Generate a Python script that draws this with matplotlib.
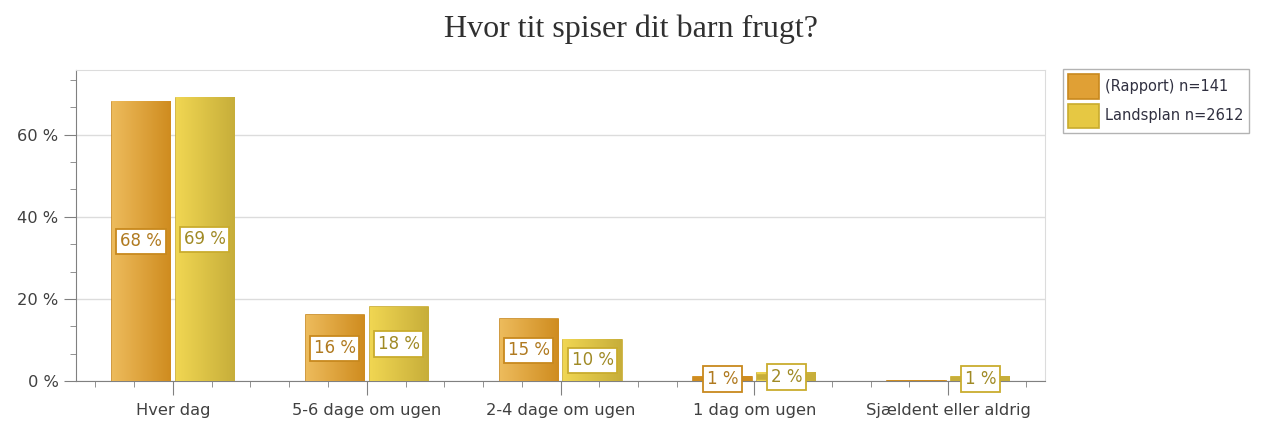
import matplotlib.pyplot as plt
import numpy as np
from matplotlib.colors import LinearSegmentedColormap
from matplotlib.ticker import MultipleLocator, FuncFormatter

categories = ['Hver dag', '5-6 dage om ugen', '2-4 dage om ugen', '1 dag om ugen', 'Sjældent eller aldrig']
rapport = [68, 16, 15, 1, 0]
landsplan = [69, 18, 10, 2, 1]
series_names = ['(Rapport) n=141', 'Landsplan n=2612']

fig = plt.figure(figsize=(12.62, 4.21), dpi=100)
ax = fig.add_axes([0.0602, 0.095, 0.768, 0.739])

x = np.arange(len(categories))
w = 0.30
off = 0.165

styles = [
    dict(face='#E0A035', edge='#C8891E', light='#EDBB5C', dark='#CF8C1F', text='#B07A20'),
    dict(face='#E6C843', edge='#C9AC2E', light='#F0D652', dark='#C7AE3A', text='#A08A25'),
]

ax.set_xlim(-0.5, 4.5)
ax.set_ylim(0, 75.8)

for i, (vals, st, name) in enumerate(zip([rapport, landsplan], styles, series_names)):
    bars = ax.bar(x + (i * 2 - 1) * off, vals, width=w, color=st['face'], edgecolor=st['edge'],
                  linewidth=1.2, label=name, zorder=3)
    cmap = LinearSegmentedColormap.from_list('g%d' % i, [st['light'], st['dark']])
    grad = np.linspace(0, 1, 64).reshape(1, -1)
    for b, v in zip(bars, vals):
        bx, by = b.get_x(), b.get_y()
        bw, bh = b.get_width(), b.get_height()
        if bh > 0:
            ax.imshow(grad, cmap=cmap, extent=(bx, bx + bw, by, by + bh), aspect='auto', zorder=3.5)
        else:
            ax.plot([bx, bx + bw], [0, 0], color=st['dark'], lw=2, zorder=3.5)
        if v > 0:
            ax.text(bx + bw / 2, v / 2, '%d %%' % v, ha='center', va='center', fontsize=12,
                    color=st['text'], zorder=6,
                    bbox=dict(boxstyle='square,pad=0.22', fc='white', ec=st['edge'], lw=1.3))
            if bh < 4:
                ax.plot([bx, bx + bw], [v / 2, v / 2], color=st['dark'], lw=4, zorder=5,
                        solid_capstyle='butt')

ax.set_aspect('auto')
ax.set_xticks(x)
ax.set_xticklabels(categories, fontsize=11.7, color='#404040')
ax.xaxis.set_minor_locator(MultipleLocator(0.2))
ax.yaxis.set_major_locator(MultipleLocator(20))
ax.yaxis.set_minor_locator(MultipleLocator(20 / 3))
ax.yaxis.set_major_formatter(FuncFormatter(lambda v, p: '%d %%' % v))
ax.tick_params(axis='y', labelsize=11.7, labelcolor='#404040')
ax.tick_params(which='major', length=9, color='#808080')
ax.tick_params(which='minor', length=4, color='#808080')
ax.tick_params(axis='x', which='major', length=10, pad=6)

ax.grid(axis='y', color='#DCDCDC', lw=1, zorder=0)
for s in ['left', 'bottom']:
    ax.spines[s].set_color('#808080')
for s in ['top', 'right']:
    ax.spines[s].set_color('#DCDCDC')

fig.text(0.5, 0.93, 'Hvor tit spiser dit barn frugt?', ha='center', va='center',
         fontsize=23, family='Liberation Serif', color='#303030')

leg = fig.legend(loc='upper left', bbox_to_anchor=(0.8423, 0.836), fontsize=10.5,
                 frameon=True, fancybox=False, edgecolor='#A0A0A0', handlelength=2.1,
                 handleheight=2.2, borderpad=0.35, labelspacing=0.35, handletextpad=0.45,
                 borderaxespad=0)
for t in leg.get_texts():
    t.set_color('#303040')

fig.savefig('out.png', dpi=100)
